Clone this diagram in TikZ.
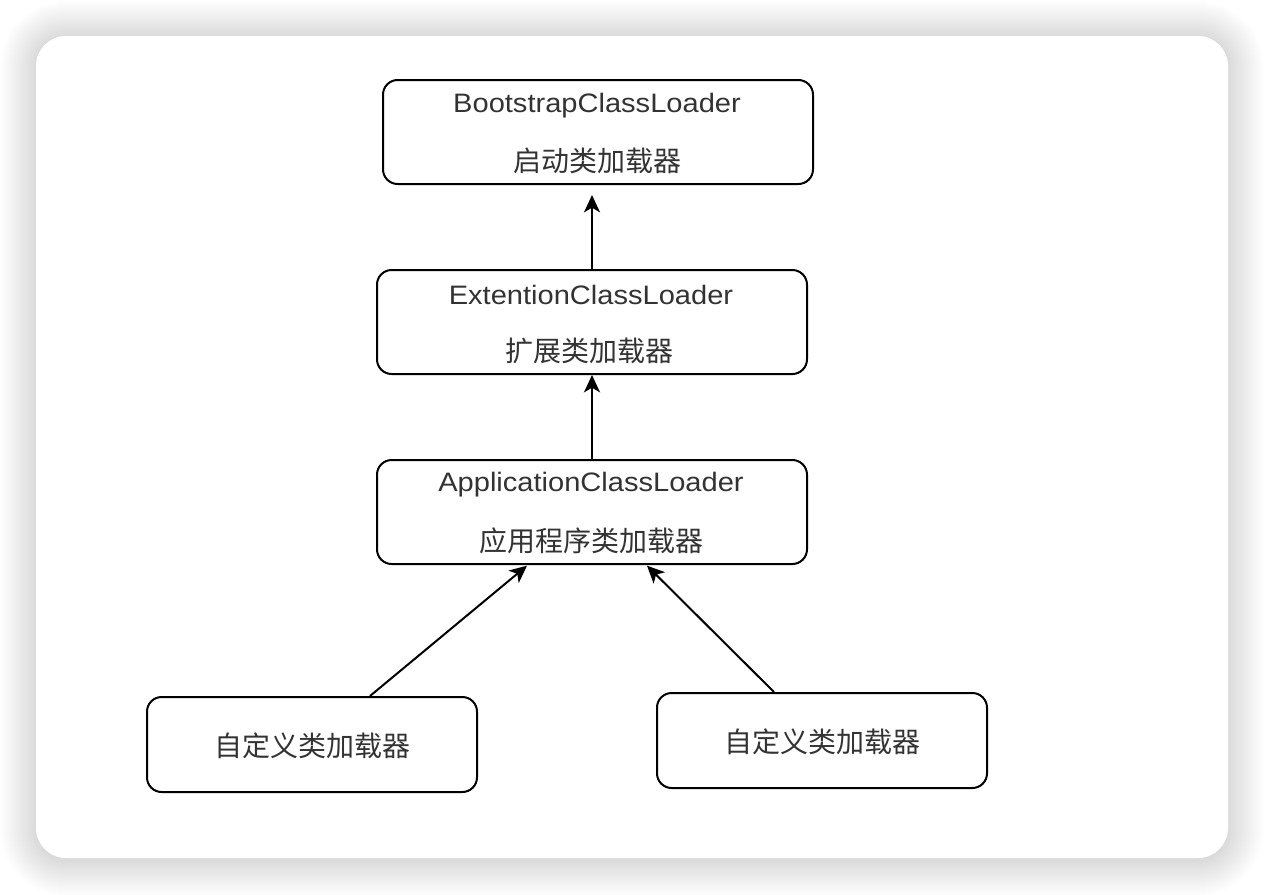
\documentclass[tikz,border=0pt]{standalone}
\usepackage{fontspec}
\setmainfont[FakeStretch=1.09]{Liberation Sans}
\newfontfamily\cjk{Noto Sans CJK SC}
\usetikzlibrary{arrows.meta,calc}
\definecolor{txt}{HTML}{333333}
\tikzset{
  box/.style={draw=black,line width=1.5pt,rounded corners=11pt,fill=white,inner sep=0pt},
  bigbox/.style={box,minimum width=322.5pt,minimum height=78pt},
  smallbox/.style={box,minimum width=247.5pt,minimum height=71.25pt},
  lat/.style={text=txt,font=\fontsize{20}{24}\selectfont,inner sep=0pt},
  zh/.style={text=txt,font=\cjk\fontsize{21}{25}\selectfont,inner sep=0pt},
  arr/.style={line width=1.5pt,-{Stealth[length=13pt,width=12pt,inset=3.5pt]}}
}
\begin{document}
\begin{tikzpicture}[x=0.75pt,y=-0.75pt]
\useasboundingbox (0,0) rectangle (1264,894);
\fill[white] (0,0) rectangle (1264,894);
% shadow
\foreach \i in {36,35,...,1}{
  \pgfmathsetmacro{\rc}{(30+\i)*0.75}
  \fill[black,opacity=0.0045,rounded corners=\rc pt] (36-\i,37-\i) rectangle (1228+\i,860+\i);
}
\fill[white,rounded corners=22.5pt] (36,36) rectangle (1228,858);
% boxes
\node[bigbox] (boot) at (598,132) {};
\node[bigbox] (ext) at (592,322) {};
\node[bigbox] (app) at (592,512) {};
\node[smallbox] (c1) at (312,744.5) {};
\node[smallbox] (c2) at (822,740.5) {};
% texts
\node[lat] (t1a) at (597,106) {BootstrapClassLoader};
\node[zh] (t1b) at (597,161) {启动类加载器};
\node[lat] (t2a) at (591,295) {ExtentionClassLoader};
\node[zh] (t2b) at (589,351) {扩展类加载器};
\node[lat] (t3a) at (591,485) {ApplicationClassLoader};
\node[zh] (t3b) at (591,541) {应用程序类加载器};
\node[zh] (t4) at (312,746) {自定义类加载器};
\node[zh] (t5) at (822,742) {自定义类加载器};
% arrows
\draw[arr,shorten >=7.5pt] (ext.north -| 592,0) -- (boot.south -| 592,0);
\draw[arr] (app.north) -- (ext.south);
\draw[arr] ([xshift=43.5pt]c1.north) -- ([xshift=-48.75pt,yshift=-0.5pt]app.south);
\draw[arr] ([xshift=-36pt]c2.north) -- ([xshift=41.25pt,yshift=-0.5pt]app.south);
\end{tikzpicture}
\end{document}
